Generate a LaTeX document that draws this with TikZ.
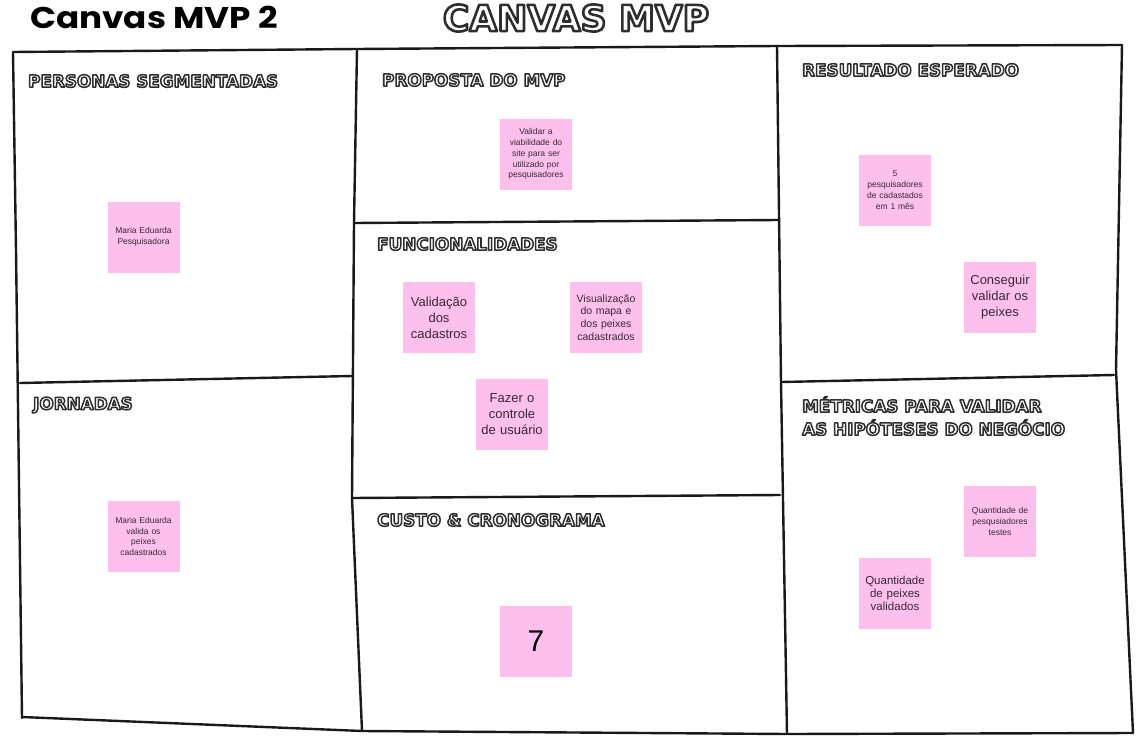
\documentclass[tikz,border=0pt]{standalone}
\usepackage{fontspec}
\setmainfont{Liberation Sans}
\newfontfamily\titlefont{Poppins}[FakeStretch=1.14]
\newfontfamily\headfont{DejaVu Sans}
\definecolor{stickypink}{RGB}{253,191,235}
\definecolor{stickytext}{RGB}{55,40,55}
% white letters with a dark outline (pdf text render mode 2)
\newcommand{\canvashead}[2][1.5]{\textcolor{white}{\special{pdf:literal direct 0.18 G #1 w 1 j 2 Tr}#2\special{pdf:literal direct 0 Tr}}}
\tikzset{
  frameline/.style={line width=2.4pt, black!90, line cap=round, line join=round},
  sticky/.style={fill=stickypink, minimum width=72pt, minimum height=71pt,
    text width=68pt, align=center, inner sep=0pt, text=stickytext},
  smalltxt/.style={font=\fontsize{8.5}{10.8}\selectfont},
  midtxt/.style={font=\fontsize{10.5}{12.8}\selectfont},
  bigtxt/.style={font=\fontsize{13}{16}\selectfont},
  heading/.style={anchor=west, inner sep=0pt, align=left,
    font=\headfont\bfseries\fontsize{16.8}{23}\selectfont}
}
\begin{document}
\begin{tikzpicture}[x=1pt, y=-1pt]
  \useasboundingbox (0,0) rectangle (1144,747);
  % titles
  \draw (30,17) node[anchor=west, inner sep=0pt, font=\titlefont\bfseries\fontsize{30}{32}\selectfont] (title) {Canvas MVP 2};
  \draw (576,18) node[inner sep=0pt, font=\headfont\bfseries\fontsize{36}{40}\selectfont] (bighead) {\canvashead[2.6]{CANVAS MVP}};
  % frame
  \draw[frameline] (13,52) -- (357,49) -- (777,46) -- (1122,45);
  \draw[frameline] (13,52) -- (16,250) -- (22,718);
  \draw[frameline] (22,717) -- (362,731) -- (787,734) -- (1133,733);
  \draw[frameline] (1122,45) -- (1116,370) -- (1133,733);
  \draw[frameline] (357,49) -- (354,223) -- (352,498) -- (362,731);
  \draw[frameline] (777,46) -- (781,382) -- (787,734);
  \draw[frameline] (20,383) -- (352,376);
  \draw[frameline] (354,223) -- (778,220);
  \draw[frameline] (352,498) -- (780,495);
  \draw[frameline] (781,382) -- (1114,375);
  % headings
  \draw (28,81) node[heading] (hpersonas) {\canvashead{PERSONAS SEGMENTADAS}};
  \draw (33,405) node[heading] (hjornadas) {\canvashead{JORNADAS}};
  \draw (382,80) node[heading] (hproposta) {\canvashead{PROPOSTA DO MVP}};
  \draw (377,244) node[heading] (hfuncoes) {\canvashead{FUNCIONALIDADES}};
  \draw (377,520) node[heading] (hcusto) {\canvashead{CUSTO \& CRONOGRAMA}};
  \draw (802,70) node[heading] (hresultado) {\canvashead{RESULTADO ESPERADO}};
  \draw (802,416) node[heading] (hmetricas) {\canvashead{MÉTRICAS PARA VALIDAR}\\\canvashead{AS HIPÓTESES DO NEGÓCIO}};
  % sticky notes
  \draw (143.5,237) node[sticky, smalltxt] (persona) {Maria Eduarda\\Pesquisadora};
  \draw (143.5,536.5) node[sticky, smalltxt] (jornada) {Maria Eduarda\\valida os\\peixes\\cadastrados};
  \draw (536,154) node[sticky, smalltxt] (proposta) {Validar a\\viabilidade do\\site para ser\\utilizado por\\pesquisadores};
  \draw (439,317.5) node[sticky, bigtxt] (validacao) {Validação\\dos\\cadastros};
  \draw (606,317.5) node[sticky, midtxt] (visualizacao) {Visualização\\do mapa e\\dos peixes\\cadastrados};
  \draw (512,414.5) node[sticky, bigtxt] (controle) {Fazer o\\controle\\de usuário};
  \draw (536,641.5) node[sticky, font=\fontsize{30}{32}\selectfont, text=black] (custo) {7};
  \draw (895,190) node[sticky, smalltxt] (pesquisadores) {5\\pesquisadores\\de cadastados\\em 1 mês};
  \draw (1000,297.5) node[sticky, bigtxt] (conseguir) {Conseguir\\validar os\\peixes};
  \draw (1000,521.5) node[sticky, smalltxt] (qtdpesq) {Quantidade de\\pesqusiadores\\testes};
  \draw (895,593.5) node[sticky, font=\fontsize{11.5}{13.3}\selectfont] (qtdpeixes) {Quantidade\\de peixes\\validados};
\end{tikzpicture}
\end{document}
